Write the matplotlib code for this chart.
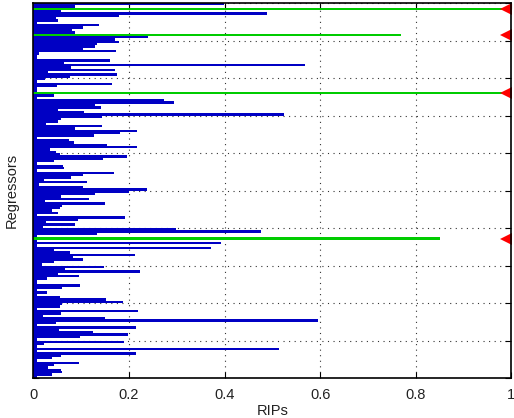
import numpy as np
import matplotlib
matplotlib.use("Agg")
import matplotlib.pyplot as plt

# RIP value per regressor, listed from the top row of the chart to the bottom row
rips = [
    0.399, 0.087, 1.000, 0.058, 0.488, 0.179, 0.047, 0.051, 0.007, 0.137,
    0.104, 0.081, 0.087, 0.770,
    0.239, 0.170, 0.179, 0.133, 0.129, 0.104, 0.173, 0.012, 0.007, 0.007,
    0.160, 0.064, 0.569, 0.079, 0.170, 0.031, 0.175, 0.077, 0.024, 0.007,
    0.164, 0.049, 0.007, 0.007,
    1.000,
    0.043, 0.007, 0.273, 0.294, 0.129, 0.141, 0.051, 0.106, 0.525, 0.143,
    0.058, 0.051, 0.026, 0.143, 0.087, 0.216, 0.181, 0.127, 0.007, 0.074,
    0.085, 0.154, 0.216, 0.035, 0.047, 0.056, 0.196, 0.145, 0.043, 0.007,
    0.062, 0.064, 0.007, 0.168, 0.104, 0.079, 0.022, 0.112, 0.012, 0.104,
    0.237, 0.200, 0.129, 0.058, 0.116, 0.024, 0.150, 0.060, 0.056, 0.039,
    0.051, 0.007, 0.191, 0.093, 0.026, 0.087, 0.020, 0.298, 0.477, 0.133,
    0.007,
    0.851,
    0.007, 0.392, 0.007, 0.371, 0.043, 0.077, 0.212, 0.083, 0.104, 0.043,
    0.018, 0.148, 0.066, 0.223, 0.051, 0.095, 0.029, 0.007, 0.007, 0.097,
    0.060, 0.007, 0.029, 0.007, 0.056, 0.152, 0.187, 0.060, 0.056, 0.007,
    0.219, 0.058, 0.020, 0.150, 0.596, 0.047, 0.007, 0.214, 0.054, 0.125,
    0.198, 0.097, 0.007, 0.189, 0.022, 0.007, 0.513, 0.007, 0.214, 0.058,
    0.039, 0.007, 0.095, 0.043, 0.031, 0.058, 0.060, 0.039, 0.007,
]
# 1-based rows (from the top) of the selected regressors
selected = [3, 14, 39, 101]
marker_x = 0.989

xticks = [0, 0.2, 0.4, 0.6, 0.8, 1]
xticklabels = ["0", "0.2", "0.4", "0.6", "0.8", "1"]

plt.rcParams['font.family'] = ['Liberation Sans', 'DejaVu Sans']

n = len(rips)
rows = np.arange(1, n + 1)
colors = ['#00CC00' if r in selected else '#0000C4' for r in rows]

fig = plt.figure(figsize=(5.14, 4.18), dpi=100)
ax = fig.add_axes([0.0648, 0.0957, 0.930, 0.897])

ax.barh(rows, rips, height=1.0, color=colors, linewidth=0, zorder=2)
sel_y = [r for r in selected]
ax.plot([marker_x] * len(sel_y), sel_y, linestyle='none', marker='<',
        markersize=8, color='red', markeredgewidth=0, zorder=4, clip_on=False)

ax.set_xlim(0, 1)
ax.set_ylim(n + 0.5, 0.5)
ax.set_xticks(xticks)
ax.set_xticklabels(xticklabels, fontsize=10.5, color='#222222')
ax.set_yticks(np.linspace(0.5, n + 0.5, 11))
ax.set_yticklabels([])

ax.grid(True, linestyle=(0, (1, 4)), color='#333333', linewidth=0.8, zorder=1)
ax.set_axisbelow(True)
ax.tick_params(direction='in', length=4, width=0.8, top=True, right=True,
               pad=7)
for s in ax.spines.values():
    s.set_linewidth(1.2)
    s.set_zorder(5)

ax.set_xlabel("RIPs", fontsize=10.5, color='#222222', labelpad=2)
ax.set_ylabel("Regressors", fontsize=10.5, color='#222222')
ax.yaxis.set_label_coords(-0.031, 0.5)

fig.savefig("out.png", dpi=100)
